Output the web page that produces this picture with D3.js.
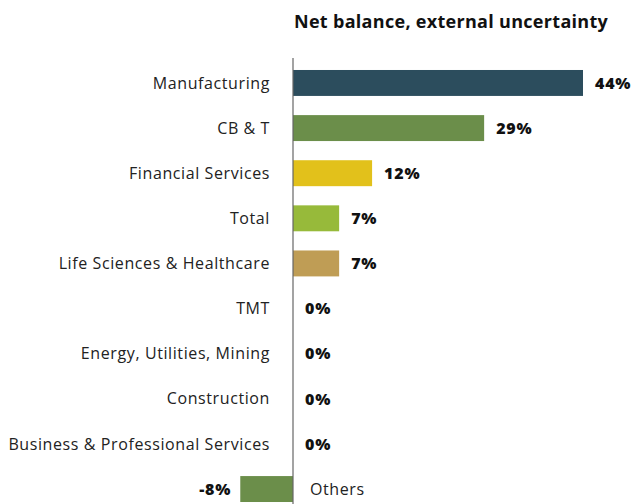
<!DOCTYPE html>
<html>
<head>
<meta charset="utf-8">
<script src="https://cdn.jsdelivr.net/npm/d3@7"></script>
<style>
  html, body { margin: 0; padding: 0; background: #fff; }
  svg { display: block; font-family: "Open Sans", sans-serif; }
</style>
</head>
<body>
<svg id="chart" width="635" height="504"></svg>
<script>
// Net balance of external uncertainty by sector
const sectors = [
  "Manufacturing",
  "CB & T",
  "Financial Services",
  "Total",
  "Life Sciences & Healthcare",
  "TMT",
  "Energy, Utilities, Mining",
  "Construction",
  "Business & Professional Services",
  "Others"
];
const netBalance = [44, 29, 12, 7, 7, 0, 0, 0, 0, -8];
const barColors = ["#2c4d5d", "#6b8e4a", "#e2c11b", "#97ba3a", "#bf9d55",
                   "#6b8e4a", "#6b8e4a", "#6b8e4a", "#6b8e4a", "#6b8e4a"];
const titleText = "Net balance, external uncertainty";

const rows = sectors.map((s, i) => ({ sector: s, value: netBalance[i], color: barColors[i] }));

const svg = d3.select("#chart");

const x = d3.scaleLinear().domain([0, 44]).range([293, 583]);
const y = d3.scaleBand()
  .domain(sectors)
  .range([60.4, 511.6])
  .paddingInner(0.425)
  .paddingOuter(0.2125);

// Title
svg.append("text")
  .attr("x", 294)
  .attr("y", 28)
  .attr("font-size", 18)
  .attr("font-weight", 700)
  .attr("letter-spacing", 0.3)
  .attr("fill", "#111")
  .text(titleText);

// Bars
svg.append("g").selectAll("rect")
  .data(rows)
  .join("rect")
  .attr("x", d => Math.min(x(0), x(d.value)))
  .attr("y", d => y(d.sector))
  .attr("width", d => Math.abs(x(d.value) - x(0)))
  .attr("height", y.bandwidth())
  .attr("fill", d => d.color);

// Zero axis line
svg.append("line")
  .attr("x1", x(0)).attr("x2", x(0))
  .attr("y1", 58).attr("y2", 504)
  .attr("stroke", "#666")
  .attr("stroke-width", 1.2);

const mid = d => y(d.sector) + y.bandwidth() / 2;

// Category labels: left of axis for non-negative, right of axis for negative
svg.append("g").selectAll("text")
  .data(rows)
  .join("text")
  .attr("x", d => d.value < 0 ? x(0) + 17 : 270)
  .attr("y", mid)
  .attr("dy", "0.35em")
  .attr("text-anchor", d => d.value < 0 ? "start" : "end")
  .attr("font-size", 16)
  .attr("letter-spacing", 0.6)
  .attr("fill", "#222")
  .text(d => d.sector);

// Value labels
svg.append("g").selectAll("text")
  .data(rows)
  .join("text")
  .attr("x", d => d.value < 0 ? x(d.value) - 9 : x(d.value) + 12)
  .attr("y", mid)
  .attr("dy", "0.36em")
  .attr("text-anchor", d => d.value < 0 ? "end" : "start")
  .attr("font-size", 16)
  .attr("font-weight", 800)
  .attr("letter-spacing", 0.8)
  .attr("fill", "#111")
  .text(d => d.value + "%");
</script>
</body>
</html>
